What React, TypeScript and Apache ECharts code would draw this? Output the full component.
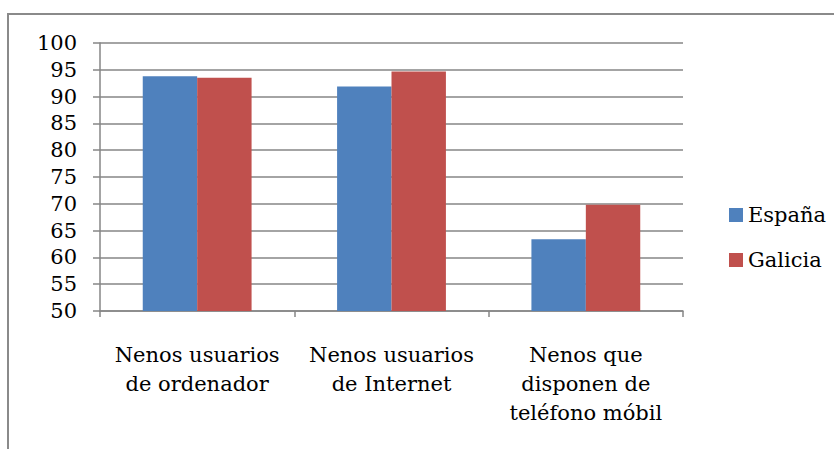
import React, { useEffect, useRef } from "react";
import * as echarts from "echarts";

const categories = [
  "Nenos usuarios\nde ordenador",
  "Nenos usuarios\nde Internet",
  "Nenos que\ndisponen de\nteléfono móbil",
];
const seriesNames = ["España", "Galicia"];
const espana = [93.8, 91.9, 63.4];
const galicia = [93.5, 94.7, 69.8];
const yTicks = { min: 50, max: 100, interval: 5 };

const FONT = "DejaVu Serif";
const FS = 21;

export default function App() {
  const ref = useRef<HTMLDivElement>(null);
  useEffect(() => {
    document.body.style.margin = "0";
    const chart = echarts.init(ref.current!, null, { renderer: "svg" });
    chart.setOption({
      animation: false,
      backgroundColor: "#ffffff",
      textStyle: { fontFamily: FONT },
      graphic: [
        {
          type: "rect",
          shape: { x: 8, y: 14, width: 900, height: 600 },
          style: { fill: "none", stroke: "#8a8a8a", lineWidth: 2 },
          silent: true,
        },
      ],
      grid: { left: 100, right: 151, top: 43, bottom: 138, containLabel: false },
      legend: {
        orient: "vertical",
        left: 724,
        top: 198,
        itemWidth: 14,
        itemHeight: 14,
        itemGap: 21,
        icon: "rect",
        textStyle: { fontFamily: FONT, fontSize: FS, color: "#000", lineHeight: 24 },
        data: seriesNames,
      },
      xAxis: {
        type: "category",
        data: categories,
        axisLine: { lineStyle: { color: "#868686", width: 1.5 } },
        axisTick: { show: true, length: 6, lineStyle: { color: "#868686", width: 1.5 } },
        axisLabel: {
          fontFamily: FONT,
          fontSize: FS,
          lineHeight: 29,
          color: "#000",
          margin: 29,
          interval: 0,
        },
      },
      yAxis: {
        type: "value",
        min: yTicks.min,
        max: yTicks.max,
        interval: yTicks.interval,
        axisLine: { show: true, lineStyle: { color: "#868686", width: 1.5 } },
        axisTick: { show: true, length: 7, lineStyle: { color: "#868686", width: 1.5 } },
        splitLine: { show: true, lineStyle: { color: "#868686", width: 1.5 } },
        axisLabel: {
          fontFamily: FONT,
          fontSize: FS,
          color: "#000",
          margin: 23,
        },
      },
      series: [
        {
          name: seriesNames[0],
          type: "bar",
          data: espana,
          barGap: "0%",
          barCategoryGap: "44%",
          itemStyle: { color: "#4F81BD" },
        },
        {
          name: seriesNames[1],
          type: "bar",
          data: galicia,
          barGap: "0%",
          barCategoryGap: "44%",
          itemStyle: { color: "#C0504D" },
        },
      ],
    });
    return () => chart.dispose();
  }, []);
  return <div ref={ref} style={{ width: 834, height: 449 }} />;
}
